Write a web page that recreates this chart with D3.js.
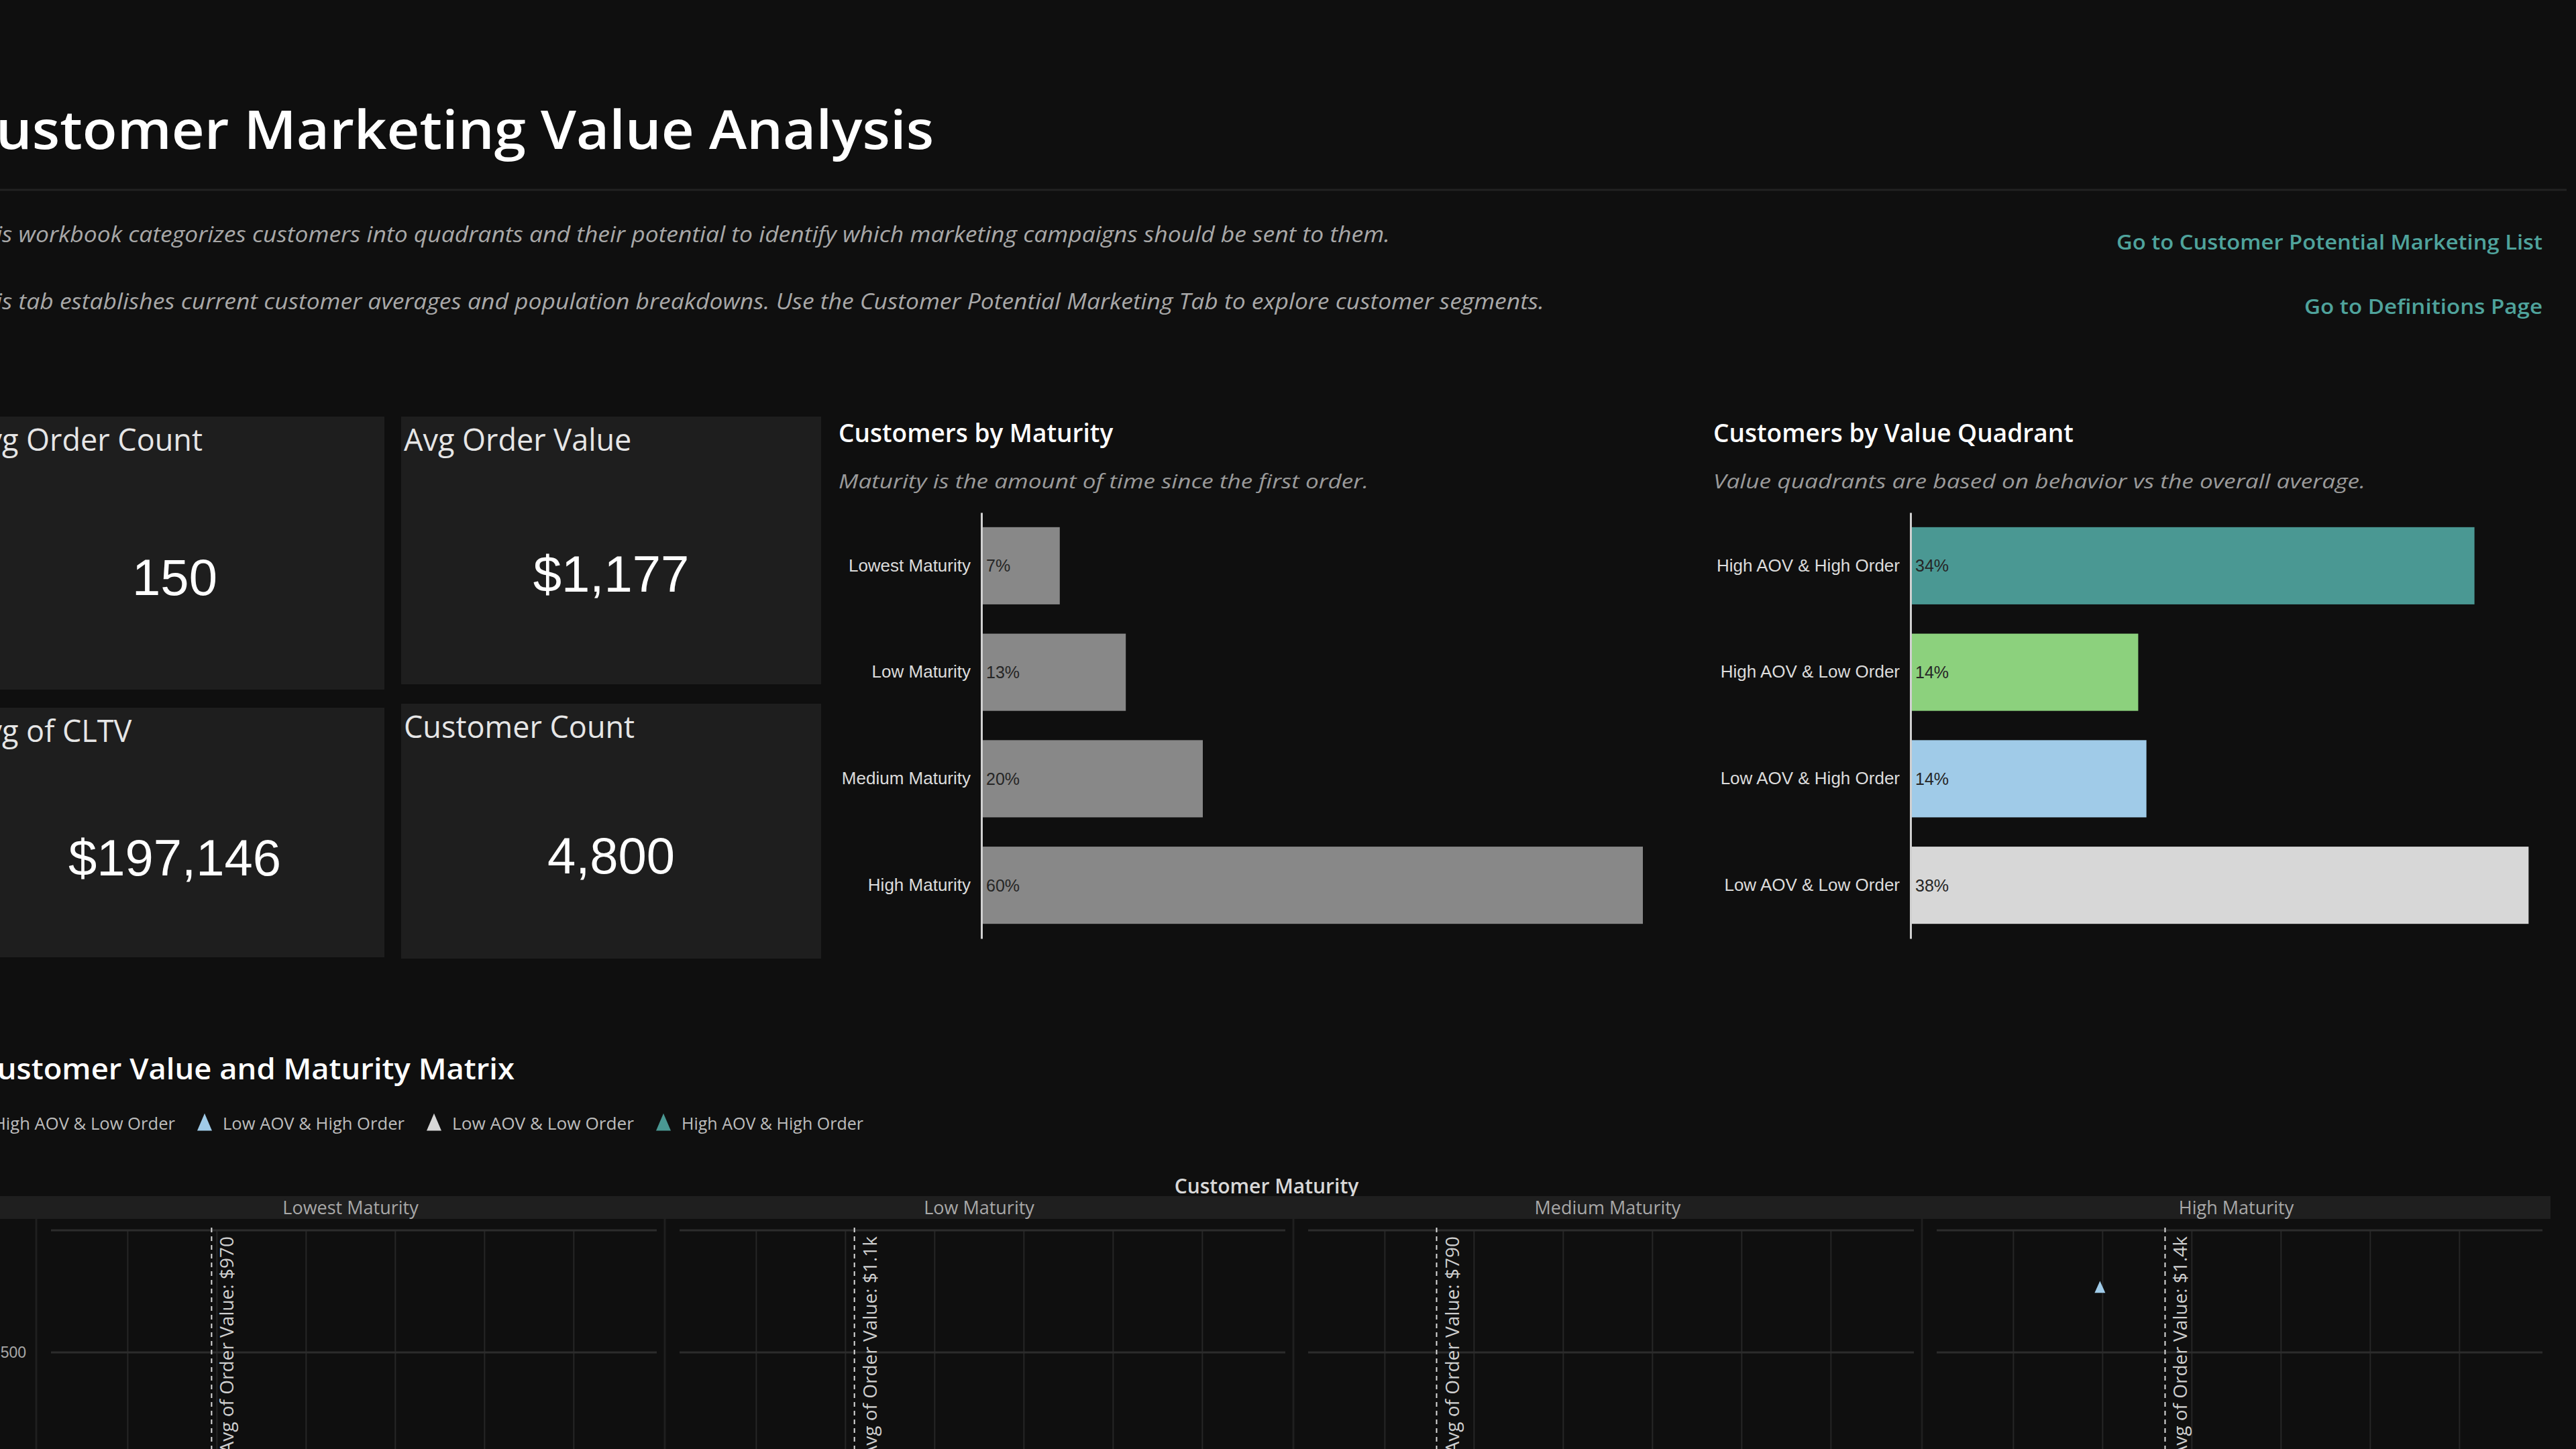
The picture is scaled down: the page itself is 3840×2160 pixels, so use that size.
<!DOCTYPE html>
<html>
<head>
<meta charset="utf-8">
<script src="https://cdn.jsdelivr.net/npm/d3@7"></script>
<style>
  body { margin: 0; background: #0f0f0f; }
  svg { display: block; }
</style>
</head>
<body>
<svg width="3840" height="2160"></svg>
<script>
// Data
const kpiLabels = ["Avg Order Count", "Avg Order Value", "Avg of CLTV", "Customer Count"];
const kpiValues = ["150", "$1,177", "$197,146", "4,800"];

const maturityLevels = ["Lowest Maturity", "Low Maturity", "Medium Maturity", "High Maturity"];
const maturityShare = [7, 13, 20, 60];

const quadrants = ["High AOV & High Order", "High AOV & Low Order", "Low AOV & High Order", "Low AOV & Low Order"];
const quadrantShare = [34.3, 13.8, 14.3, 37.6];
const quadrantColors = ["#4a9893", "#8cd17d", "#a0cbe8", "#d7d7d7"];

const legendItems = ["High AOV & Low Order", "Low AOV & High Order", "Low AOV & Low Order", "High AOV & High Order"];

const avgOrderValue = [970, 1050, 790, 1350];
const avgOrderLabels = ["$970", "$1.1k", "$790", "$1.4k"];

const pointMaturity = ["High Maturity"];
const pointAov = [985];
const pointOrders = [760];
const pointQuadrant = ["Low AOV & High Order"];

const xTicks = [500, 1000, 1500, 2000, 2500, 3000];
const yTicks = [500];

const svg = d3.select("svg");
const color = d3.scaleOrdinal(quadrants, quadrantColors);
const titleFont = "'Open Sans', 'Noto Sans', sans-serif";
const arial = "'Liberation Sans', Arial, sans-serif";

// stretch a text to the width it has in the dashboard font
function fit(sel, w) {
  sel.attr("textLength", w).attr("lengthAdjust", "spacingAndGlyphs");
}

// Header
svg.append("text")
    .attr("x", 1392).attr("y", 222)
    .attr("text-anchor", "end")
    .attr("font-family", titleFont).attr("font-weight", 600)
    .attr("font-size", 80).attr("fill", "#fff")
    .text("Customer Marketing Value Analysis")
    .call(fit, 1452);

svg.append("line")
    .attr("x1", 0).attr("x2", 3826).attr("y1", 283).attr("y2", 283)
    .attr("stroke", "#222").attr("stroke-width", 3);

const intro = [
  ["This workbook categorizes customers into quadrants and their potential to identify which marketing campaigns should be sent to them.", 2072, 361],
  ["This tab establishes current customer averages and population breakdowns. Use the Customer Potential Marketing Tab to explore customer segments.", 2302, 461]
];
svg.selectAll(".intro").data(intro).enter().append("text")
    .attr("x", d => d[1]).attr("y", d => d[2])
    .attr("text-anchor", "end")
    .attr("font-family", titleFont).attr("font-style", "italic")
    .attr("font-size", 32).attr("fill", "#a8a8a8")
    .attr("textLength", d => d[1] + 44).attr("lengthAdjust", "spacingAndGlyphs")
    .text(d => d[0]);

const links = [["Go to Customer Potential Marketing List", 372, 635], ["Go to Definitions Page", 468, 355]];
svg.selectAll(".link").data(links).enter().append("text")
    .attr("x", 3790).attr("y", d => d[1])
    .attr("text-anchor", "end")
    .attr("font-family", titleFont).attr("font-weight", 600)
    .attr("font-size", 31).attr("fill", "#4fa39c")
    .attr("textLength", d => d[2]).attr("lengthAdjust", "spacingAndGlyphs")
    .text(d => d[0]);

// KPI cards
const cardBoxes = [
  { x: -52, y: 621, w: 625, h: 407, vy: 887 },
  { x: 598, y: 621, w: 626, h: 399, vy: 882 },
  { x: -52, y: 1055, w: 625, h: 372, vy: 1305 },
  { x: 598, y: 1049, w: 626, h: 380, vy: 1302 }
];
const card = svg.selectAll(".card").data(cardBoxes).enter().append("g");
card.append("rect")
    .attr("x", d => d.x).attr("y", d => d.y)
    .attr("width", d => d.w).attr("height", d => d.h)
    .attr("fill", "#1e1e1e");
card.append("text")
    .attr("x", d => d.x + 4).attr("y", d => d.y + 51)
    .attr("font-family", titleFont).attr("font-size", 45).attr("fill", "#e6e6e6")
    .text((d, i) => kpiLabels[i]);
card.append("text")
    .attr("x", d => d.x + d.w / 2).attr("y", d => d.vy)
    .attr("text-anchor", "middle")
    .attr("font-family", arial).attr("font-size", 76).attr("fill", "#fff")
    .text((d, i) => kpiValues[i]);

// Horizontal bar charts
function barChart(o) {
  const g = svg.append("g");
  g.append("text")
      .attr("x", o.left).attr("y", 659)
      .attr("font-family", titleFont).attr("font-weight", 600)
      .attr("font-size", 37).attr("fill", "#fff")
      .text(o.title);
  g.append("text")
      .attr("x", o.left).attr("y", 728)
      .attr("font-family", titleFont).attr("font-style", "italic")
      .attr("font-size", 30).attr("fill", "#9a9a9a")
      .text(o.note)
      .call(fit, o.noteWidth);

  const y = d3.scaleBand().domain(o.cats).range([764, 1399])
      .paddingInner(0.275).paddingOuter(0.1375);
  const x = d3.scaleLinear().domain([0, o.max]).range([o.axisX + 2, o.axisX + 2 + o.width]);

  g.selectAll(".bar").data(o.vals).enter().append("rect")
      .attr("x", x(0)).attr("y", (d, i) => y(o.cats[i]))
      .attr("width", d => x(d) - x(0)).attr("height", y.bandwidth())
      .attr("fill", (d, i) => o.fill(i));

  g.selectAll(".val").data(o.vals).enter().append("text")
      .attr("x", x(0) + 5).attr("y", (d, i) => y(o.cats[i]) + y.bandwidth() / 2 + 9)
      .attr("font-family", arial).attr("font-size", 25).attr("fill", "#262626")
      .text(d => Math.round(d) + "%");

  const axis = g.append("g")
      .attr("transform", `translate(${o.axisX},0)`)
      .call(d3.axisLeft(y).tickSize(0).tickPadding(16));
  axis.select(".domain").attr("stroke", "#d0d0d0").attr("stroke-width", 3);
  axis.selectAll("text")
      .attr("font-family", arial).attr("font-size", 26).attr("fill", "#dcdcdc");
}

barChart({
  title: "Customers by Maturity",
  note: "Maturity is the amount of time since the first order.", noteWidth: 790,
  left: 1250, axisX: 1463, max: 60, width: 984,
  cats: maturityLevels, vals: maturityShare, fill: () => "#888"
});
barChart({
  title: "Customers by Value Quadrant",
  note: "Value quadrants are based on behavior vs the overall average.", noteWidth: 972,
  left: 2554, axisX: 2848, max: 40, width: 978,
  cats: quadrants, vals: quadrantShare, fill: i => color(quadrants[i])
});

// Matrix section
svg.append("text")
    .attr("x", 767).attr("y", 1609)
    .attr("text-anchor", "end")
    .attr("font-family", titleFont).attr("font-weight", 600)
    .attr("font-size", 44).attr("fill", "#fff")
    .text("Customer Value and Maturity Matrix")
    .call(fit, 800);

const tri = d3.symbol(d3.symbolTriangle);
const legend = svg.selectAll(".legend").data(legendItems).enter().append("g")
    .attr("transform", (d, i) => `translate(${-37 + i * 342},1675)`);
legend.append("path")
    .attr("d", tri.size(210)())
    .attr("transform", "translate(0,2) scale(1,1.35)")
    .attr("fill", d => color(d));
legend.append("text")
    .attr("x", 27).attr("y", 9)
    .attr("font-family", titleFont).attr("font-size", 25).attr("fill", "#bdbdbd")
    .text(d => d)
    .call(fit, 271);

svg.append("text")
    .attr("x", 1888).attr("y", 1779)
    .attr("text-anchor", "middle")
    .attr("font-family", titleFont).attr("font-weight", 600)
    .attr("font-size", 30).attr("fill", "#d8d8d8")
    .text("Customer Maturity");

svg.append("rect")
    .attr("x", 0).attr("y", 1783).attr("width", 3802).attr("height", 34)
    .attr("fill", "#1f1f1f");

const facet = d3.scaleBand().domain(maturityLevels).range([54, 3802]);
const x = d3.scaleLinear().domain([70, 3465]).range([22, 925]);
const y = d3.scaleLinear().domain([0, 1000]).range([2198, 1834]);

svg.selectAll(".facetLabel").data(maturityLevels).enter().append("text")
    .attr("x", d => facet(d) + facet.bandwidth() / 2).attr("y", 1810)
    .attr("text-anchor", "middle")
    .attr("font-family", titleFont).attr("font-size", 27).attr("fill", "#a8a8a8")
    .text(d => d);

svg.selectAll(".divider").data(maturityLevels).enter().append("line")
    .attr("x1", d => facet(d)).attr("x2", d => facet(d))
    .attr("y1", 1817).attr("y2", 2160)
    .attr("stroke", "#1f1f1f").attr("stroke-width", 3);

const pane = svg.selectAll(".pane").data(maturityLevels).enter().append("g")
    .attr("transform", d => `translate(${facet(d)},0)`);

pane.selectAll(".vgrid").data(xTicks).enter().append("line")
    .attr("x1", d => x(d)).attr("x2", d => x(d))
    .attr("y1", y(1000)).attr("y2", 2160)
    .attr("stroke", "#262626").attr("stroke-width", 2);

pane.selectAll(".hgrid").data([...yTicks, y.domain()[1]]).enter().append("line")
    .attr("x1", x.range()[0]).attr("x2", x.range()[1])
    .attr("y1", d => y(d)).attr("y2", d => y(d))
    .attr("stroke", "#2c2c2c").attr("stroke-width", 3);

pane.append("line")
    .attr("x1", (d, i) => x(avgOrderValue[i])).attr("x2", (d, i) => x(avgOrderValue[i]))
    .attr("y1", 1830).attr("y2", 2160)
    .attr("stroke", "#dcdcdc").attr("stroke-width", 2).attr("stroke-dasharray", "7,6");

pane.append("text")
    .attr("transform", (d, i) => `translate(${x(avgOrderValue[i]) + 33},1843) rotate(-90)`)
    .attr("text-anchor", "end")
    .attr("font-family", titleFont).attr("font-size", 28).attr("fill", "#cfcfcf")
    .text((d, i) => "Avg of Order Value: " + avgOrderLabels[i]);

svg.selectAll(".ylab").data(yTicks).enter().append("text")
    .attr("x", 39).attr("y", d => y(d) + 8)
    .attr("text-anchor", "end")
    .attr("font-family", arial).attr("font-size", 23).attr("fill", "#a8a8a8")
    .text(d => d3.format(",")(d));

svg.selectAll(".point").data(pointAov).enter().append("path")
    .attr("d", tri.size(110)())
    .attr("transform", (d, i) => `translate(${facet(pointMaturity[i]) + x(d)},${y(pointOrders[i])}) scale(1,1.3)`)
    .attr("fill", (d, i) => color(pointQuadrant[i]));
</script>
</body>
</html>
